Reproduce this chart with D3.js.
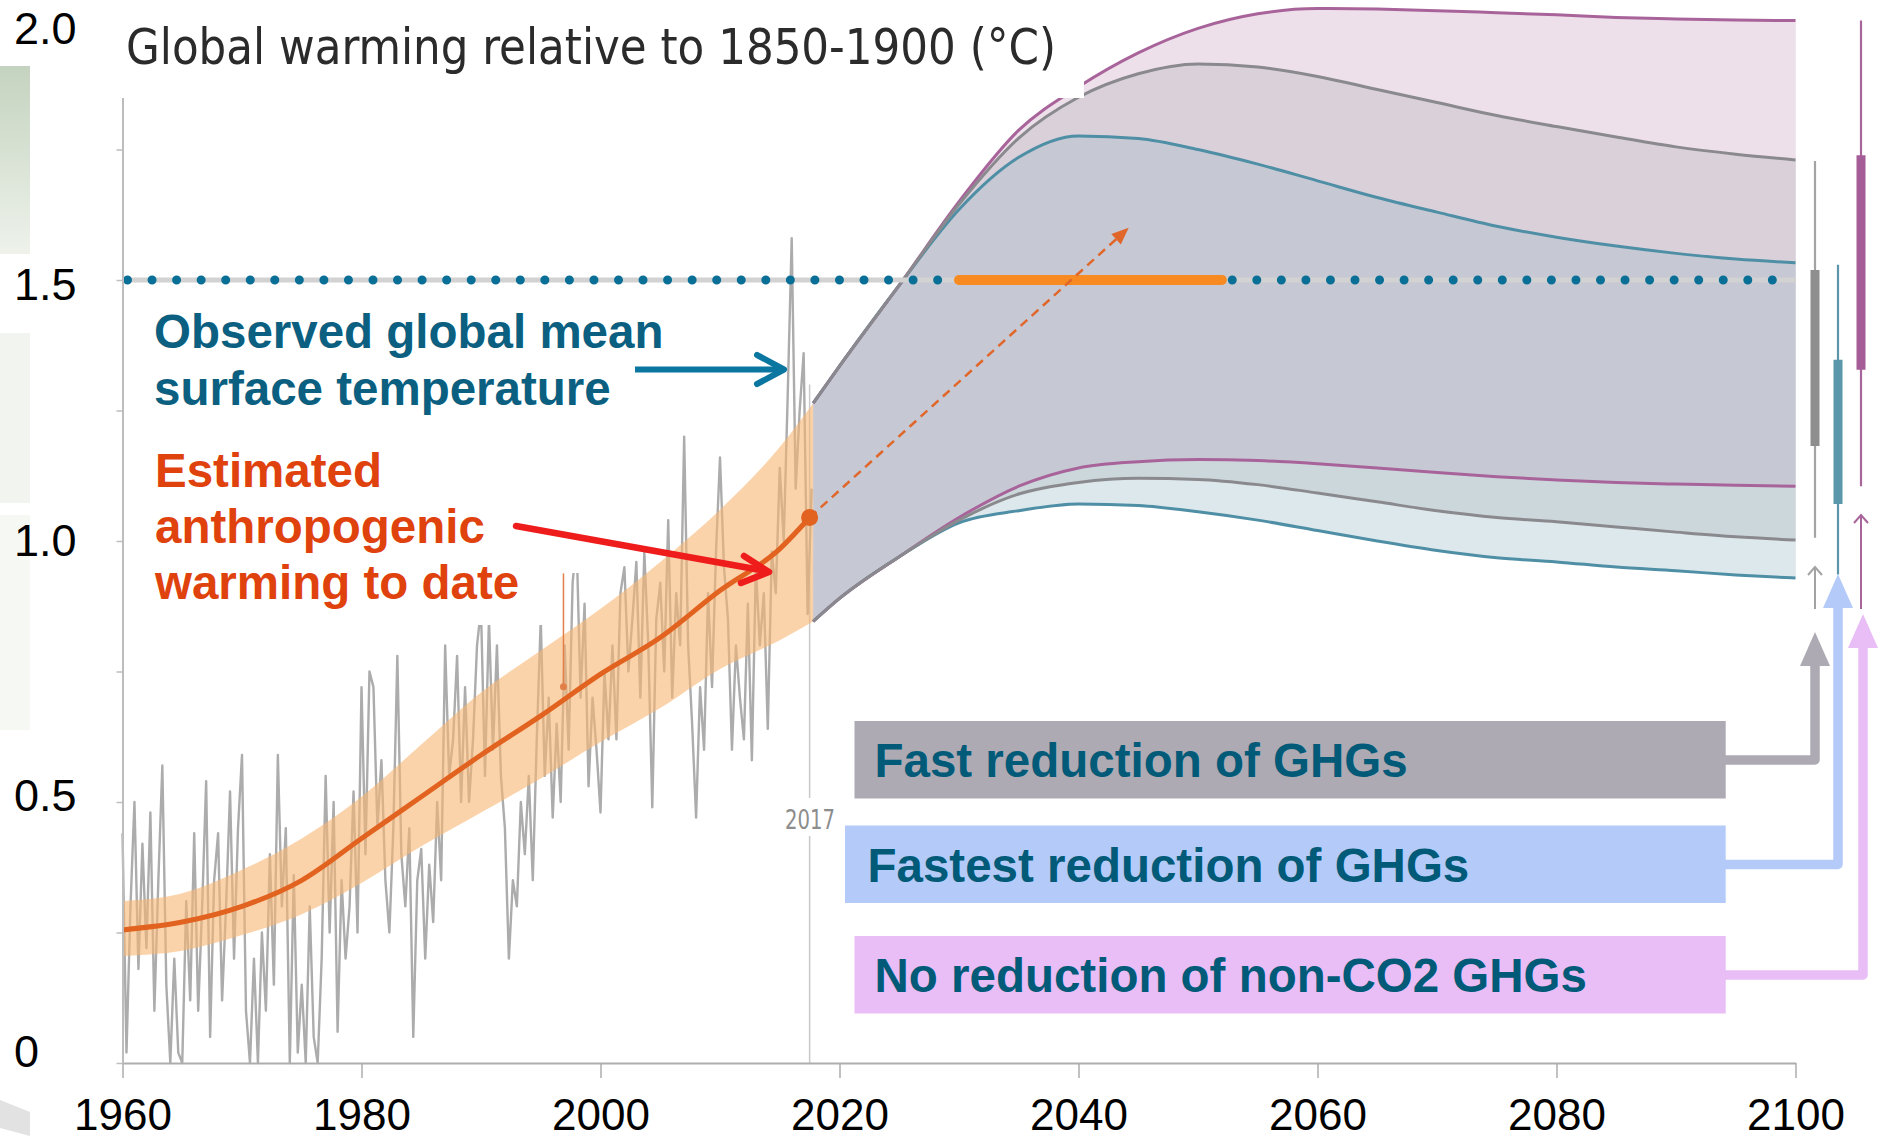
<!DOCTYPE html>
<html>
<head>
<meta charset="utf-8">
<script src="https://cdn.jsdelivr.net/npm/d3@7"></script>
<style>
  body { margin: 0; background: #fff; }
  svg { display: block; }
  text { font-family: "Liberation Sans", Arial, Helvetica, sans-serif; }
</style>
</head>
<body>
<script>
const width = 1878;
const height = 1144;

// observed global mean surface temperature, three readings per year from 1960
const obsStart = 1960;
const obsPerYear = 3;
const observed = [
  0.44, 0.02, 0.30,  0.50, 0.18, 0.42,  0.22, 0.48, 0.10,  0.35, 0.57, 0.15,
  0.00, 0.20, 0.02,  0.00, 0.31, 0.12,  0.44, 0.10, 0.30,  0.54, 0.05, 0.35,
  0.44, 0.12, 0.30,  0.52, 0.20, 0.45,  0.59, 0.10, 0.00,  0.20, 0.00, 0.25,
  0.10, 0.40, 0.15,  0.59, 0.30, 0.45,  0.00, 0.36, 0.02,  0.15, 0.00, 0.30,
  0.05, 0.00, 0.20,  0.55, 0.25, 0.50,  0.06, 0.35, 0.20,  0.30, 0.52, 0.25,
  0.72, 0.40, 0.75,  0.72, 0.45, 0.58,  0.35, 0.25, 0.45,  0.78, 0.40, 0.30,
  0.45, 0.05, 0.35,  0.41, 0.20, 0.38,  0.27, 0.50, 0.35,  0.80, 0.55, 0.62,
  0.78, 0.50, 0.72,  0.50, 0.62, 0.80,  0.87, 0.55, 0.85,  0.60, 0.80, 0.55,
  0.45, 0.20, 0.35,  0.30, 0.50, 0.40,  0.55, 0.35, 0.62,  0.85, 0.55, 0.70,
  0.47, 0.65, 0.50,  0.80, 0.60, 0.92,  1.00, 0.70, 0.88,  0.53, 0.70, 0.60,
  0.48, 0.75, 0.62,  0.80, 0.62, 0.90,  0.95, 0.75, 0.85,  0.96, 0.70, 0.98,
  0.80, 0.49, 0.85,  0.92, 0.75, 1.04,  0.70, 0.90, 0.80,  1.20, 0.80, 0.65,
  0.47, 0.72, 0.60,  0.90, 0.72, 0.98,  1.16, 0.95, 0.85,  0.60, 0.80, 0.70,
  0.62, 0.88, 0.58,  0.95, 0.80, 0.90,  0.64, 0.98, 0.90,  1.14, 1.00, 1.28,
  1.58, 1.10, 1.25,  1.36, 0.86, 1.10
];

// estimated anthropogenic warming and its likely range
const bandYears = [1960, 1965, 1970, 1975, 1980, 1985, 1990, 1995, 2000, 2005, 2010, 2015, 2017.8];
const bandMid  = [0.255, 0.27, 0.30, 0.35, 0.43, 0.51, 0.59, 0.665, 0.745, 0.815, 0.905, 0.985, 1.06];
const bandHigh = [0.31, 0.325, 0.37, 0.43, 0.51, 0.61, 0.71, 0.79, 0.87, 0.96, 1.06, 1.18, 1.264];
const bandLow  = [0.205, 0.215, 0.245, 0.285, 0.345, 0.415, 0.48, 0.545, 0.615, 0.68, 0.755, 0.81, 0.846];

// projected ranges for the three pathways
const projYears = [2017.8, 2020, 2025, 2030, 2035, 2040, 2045, 2050, 2055, 2060, 2065, 2070, 2075, 2080, 2085, 2090, 2095, 2100];
const magTop  = [1.264, 1.335, 1.49, 1.65, 1.787, 1.87, 1.935, 1.982, 2.01, 2.02, 2.019, 2.016, 2.012, 2.008, 2.003, 2.0, 1.998, 1.997];
const greyTop = [1.264, 1.335, 1.49, 1.645, 1.772, 1.85, 1.895, 1.914, 1.908, 1.89, 1.865, 1.84, 1.815, 1.794, 1.774, 1.755, 1.741, 1.73];
const blueTop = [1.264, 1.335, 1.49, 1.635, 1.735, 1.776, 1.771, 1.75, 1.722, 1.69, 1.658, 1.63, 1.603, 1.582, 1.565, 1.551, 1.54, 1.533];
const magLow  = [0.846, 0.89, 0.97, 1.045, 1.105, 1.14, 1.152, 1.156, 1.154, 1.148, 1.14, 1.131, 1.123, 1.117, 1.112, 1.109, 1.107, 1.105];
const greyLow = [0.846, 0.89, 0.97, 1.04, 1.09, 1.112, 1.12, 1.118, 1.108, 1.092, 1.075, 1.058, 1.045, 1.037, 1.027, 1.017, 1.008, 1.002];
const blueLow = [0.846, 0.89, 0.97, 1.035, 1.058, 1.071, 1.068, 1.056, 1.04, 1.02, 1.0, 0.982, 0.968, 0.96, 0.95, 0.943, 0.935, 0.929];

// 2100 ranges at the right edge
const scenarios = ['Fast reduction of GHGs', 'Fastest reduction of GHGs', 'No reduction of non-CO2 GHGs'];
const rangeMin  = [1.006, 0.936, 1.105];
const rangeMax  = [1.728, 1.529, 1.997];
const likelyLow  = [1.182, 1.071, 1.328];
const likelyHigh = [1.519, 1.347, 1.739];

const reach15 = [2030, 2052];
const nowPoint = [2017.5, 1.045];
const trendTip = [2044.2, 1.6];
const marker1997 = [1996.9, 0.721, 0.938];

const xTicks = [1960, 1980, 2000, 2020, 2040, 2060, 2080, 2100];
const yMinorTicks = [0, 0.25, 0.5, 0.75, 1, 1.25, 1.5, 1.75, 2];
const yLabels = [0, 0.5, 1, 1.5, 2];

const scenarioLine  = ['#8a8a8e', '#4f8fa6', '#a8649a'];
const scenarioBox   = ['#8e8e8e', '#5a97ab', '#a45d96'];
const scenarioThin  = ['#a3a3a3', '#5d96aa', '#a8659a'];
const legendFill    = ['#aeaab4', '#b4cbf9', '#e9bdf5'];

const x = d3.scaleLinear().domain([1960, 2100]).range([122.5, 1795.5]);
const y = d3.scaleLinear().domain([0, 2]).range([1063, 19]);
// the slide's pasted tick labels sit slightly off the plot scale
const yLab = d3.scaleLinear().domain([0, 2]).range([1067, 44]);
const xs = d3.scalePoint().domain(scenarios).range([1815, 1861]);

const svg = d3.select('body').append('svg')
  .attr('width', width)
  .attr('height', height);

const defs = svg.append('defs');
const grad = defs.append('linearGradient').attr('id', 'sideGreen')
  .attr('x1', 0).attr('y1', 0).attr('x2', 0).attr('y2', 1);
grad.append('stop').attr('offset', 0).attr('stop-color', '#c4d3bf');
grad.append('stop').attr('offset', 1).attr('stop-color', '#eef2eb');

// bits of the slide background on the far left
svg.append('rect').attr('x', 0).attr('y', 66).attr('width', 30).attr('height', 188).attr('fill', 'url(#sideGreen)');
svg.append('rect').attr('x', 0).attr('y', 333).attr('width', 30).attr('height', 170).attr('fill', '#f1f4ef');
svg.append('rect').attr('x', 0).attr('y', 515).attr('width', 30).attr('height', 215).attr('fill', '#f6f8f3');
svg.append('path').attr('d', 'M0,1100 L30,1112 L30,1136 L0,1128 Z').attr('fill', '#e2e2e2');

// projection bands, stacked from top to bottom
const proj = projYears.map((yr, i) => ({
  yr, mt: magTop[i], gt: greyTop[i], bt: blueTop[i], ml: magLow[i], gl: greyLow[i], bl: blueLow[i]
}));
const bands = [
  ['mt', 'gt', '#eee0ea'],
  ['gt', 'bt', '#d9d0da'],
  ['bt', 'ml', '#c6c9d3'],
  ['ml', 'gl', '#ccd7dc'],
  ['gl', 'bl', '#dde8ec'],
];
bands.forEach(([a, b, c]) => {
  svg.append('path')
    .datum(proj)
    .attr('fill', c)
    .attr('stroke', c)
    .attr('stroke-width', 0.6)
    .attr('d', d3.area().curve(d3.curveMonotoneX)
      .x(d => x(d.yr)).y0(d => y(d[b])).y1(d => y(d[a])));
});

// 2017 marker line
svg.append('line')
  .attr('x1', x(2017.5)).attr('x2', x(2017.5))
  .attr('y1', y(1.3)).attr('y2', y(0))
  .attr('stroke', '#c9c9c9').attr('stroke-width', 1.5);

// observed series
const obs = observed.map((v, i) => [obsStart + i / obsPerYear, v]);
svg.append('path')
  .datum(obs)
  .attr('fill', 'none')
  .attr('stroke', '#acacac')
  .attr('stroke-width', 2.4)
  .attr('stroke-linejoin', 'round')
  .attr('d', d3.line().x(d => x(d[0])).y(d => y(d[1])));

// likely range of anthropogenic warming
const band = bandYears.map((yr, i) => ({ yr, mid: bandMid[i], hi: bandHigh[i], lo: bandLow[i] }));
svg.append('path')
  .datum(band)
  .attr('fill', '#f8b573')
  .attr('fill-opacity', 0.6)
  .attr('d', d3.area().curve(d3.curveMonotoneX)
    .x(d => x(d.yr)).y0(d => y(d.lo)).y1(d => y(d.hi)));

// white panels behind the annotation text
svg.append('rect').attr('x', 123).attr('y', 430).attr('width', 477).attr('height', 143).attr('fill', '#fff');
svg.append('rect').attr('x', 123).attr('y', 573).attr('width', 424).attr('height', 52).attr('fill', '#fff');

// small 1997 marker
svg.append('line')
  .attr('x1', x(marker1997[0])).attr('x2', x(marker1997[0]))
  .attr('y1', y(marker1997[2])).attr('y2', y(marker1997[1]))
  .attr('stroke', '#e08048').attr('stroke-width', 1.5);
svg.append('circle').attr('cx', x(marker1997[0])).attr('cy', y(marker1997[1])).attr('r', 3.5).attr('fill', '#e08048');

// projection lines
const lineKeys = [['bt', 1], ['bl', 1], ['mt', 2], ['ml', 2], ['gt', 0], ['gl', 0]];
lineKeys.forEach(([k, s]) => {
  svg.append('path')
    .datum(proj)
    .attr('fill', 'none')
    .attr('stroke', scenarioLine[s])
    .attr('stroke-width', 3)
    .attr('d', d3.line().curve(d3.curveMonotoneX).x(d => x(d.yr)).y(d => y(d[k])));
});

// 1.5 degree line
svg.append('line')
  .attr('x1', x(1960)).attr('x2', x(2100))
  .attr('y1', y(1.5)).attr('y2', y(1.5))
  .attr('stroke', '#d2d2d2').attr('stroke-width', 5);
svg.append('line')
  .attr('x1', x(1960) + 5).attr('x2', x(2098.5))
  .attr('y1', y(1.5)).attr('y2', y(1.5))
  .attr('stroke', '#0a6f96')
  .attr('stroke-width', 9)
  .attr('stroke-linecap', 'round')
  .attr('stroke-dasharray', '0 24.55');

// period when 1.5 is reached
svg.append('line')
  .attr('x1', x(reach15[0])).attr('x2', x(reach15[1]))
  .attr('y1', y(1.5)).attr('y2', y(1.5))
  .attr('stroke', '#f78a20').attr('stroke-width', 10).attr('stroke-linecap', 'round');

// anthropogenic warming central line
svg.append('path')
  .datum(band.filter(d => d.yr <= 2017.6).concat([{ yr: nowPoint[0], mid: nowPoint[1] }]))
  .attr('fill', 'none')
  .attr('stroke', '#e2621f')
  .attr('stroke-width', 5)
  .attr('d', d3.line().curve(d3.curveMonotoneX).x(d => x(d.yr)).y(d => y(d.mid)));

// dashed trend arrow
const tx0 = x(nowPoint[0]), ty0 = y(nowPoint[1]), tx1 = x(trendTip[0]), ty1 = y(trendTip[1]);
const ang = Math.atan2(ty1 - ty0, tx1 - tx0);
svg.append('line')
  .attr('x1', tx0).attr('y1', ty0)
  .attr('x2', tx1 - 12 * Math.cos(ang)).attr('y2', ty1 - 12 * Math.sin(ang))
  .attr('stroke', '#e0662a').attr('stroke-width', 2.5).attr('stroke-dasharray', '9 6');
svg.append('path')
  .attr('d', `M${tx1},${ty1} L${tx1 - 17 * Math.cos(ang) + 7 * Math.sin(ang)},${ty1 - 17 * Math.sin(ang) - 7 * Math.cos(ang)} L${tx1 - 17 * Math.cos(ang) - 7 * Math.sin(ang)},${ty1 - 17 * Math.sin(ang) + 7 * Math.cos(ang)} Z`)
  .attr('fill', '#e0662a');

svg.append('circle')
  .attr('cx', x(nowPoint[0])).attr('cy', y(nowPoint[1]))
  .attr('r', 8.5).attr('fill', '#e2621f');

// axes
const xAxis = svg.append('g')
  .attr('transform', `translate(0,${y(0)})`)
  .call(d3.axisBottom(x).tickValues(xTicks).tickSize(15).tickSizeOuter(0).tickPadding(21).tickFormat(d3.format('d')));
xAxis.select('.domain').attr('stroke', '#adadad').attr('stroke-width', 2);
xAxis.selectAll('.tick line').attr('stroke', '#adadad').attr('stroke-width', 1.5);
xAxis.selectAll('.tick text')
  .attr('fill', '#000')
  .style('font-family', '"Liberation Sans", Arial, sans-serif')
  .style('font-size', '44px');

const yAxis = svg.append('g')
  .attr('transform', `translate(${x(1960)},0)`)
  .call(d3.axisLeft(y).tickValues(yMinorTicks).tickSize(6).tickSizeOuter(0).tickFormat(''));
yAxis.select('.domain').attr('stroke', '#bdbdbd').attr('stroke-width', 2);
yAxis.selectAll('.tick line').attr('stroke', '#bdbdbd').attr('stroke-width', 1.5);

// 2017 label
svg.append('rect').attr('x', 784).attr('y', 798).attr('width', 52).attr('height', 38).attr('fill', '#fff');
svg.append('text')
  .attr('x', 785).attr('y', 829)
  .attr('textLength', 50).attr('lengthAdjust', 'spacingAndGlyphs')
  .style('font-family', '"Liberation Sans Narrow", "DejaVu Sans Condensed", sans-serif')
  .style('font-size', '27px')
  .attr('fill', '#8d8d8d')
  .text('2017');

// title panel
svg.append('rect').attr('x', 31).attr('y', 0).attr('width', 1053).attr('height', 98).attr('fill', '#fff');
svg.append('text')
  .attr('x', 126).attr('y', 64)
  .attr('textLength', 930).attr('lengthAdjust', 'spacingAndGlyphs')
  .style('font-family', '"Liberation Sans Narrow", "DejaVu Sans Condensed", "Open Sans", sans-serif')
  .style('font-size', '50px')
  .attr('fill', '#2b2b2b')
  .text('Global warming relative to 1850-1900 (°C)');

// y labels
svg.append('g').selectAll('text')
  .data(yLabels)
  .join('text')
  .attr('x', 14)
  .attr('y', d => yLab(d))
  .style('font-size', '45px')
  .attr('fill', '#000')
  .text(d => d === 0 ? '0' : d.toFixed(1));

// 2100 ranges
const rng = svg.append('g');
scenarios.forEach((s, i) => {
  rng.append('line')
    .attr('x1', xs(s)).attr('x2', xs(s))
    .attr('y1', y(rangeMax[i])).attr('y2', y(rangeMin[i]))
    .attr('stroke', scenarioThin[i]).attr('stroke-width', 2.2);
  rng.append('line')
    .attr('x1', xs(s)).attr('x2', xs(s))
    .attr('y1', y(likelyHigh[i])).attr('y2', y(likelyLow[i]))
    .attr('stroke', scenarioBox[i]).attr('stroke-width', 9);
});
// small upward pointers beneath the ranges
[[0, 567], [2, 515]].forEach(([i, top]) => {
  const cx = xs(scenarios[i]);
  rng.append('line').attr('x1', cx).attr('x2', cx).attr('y1', top).attr('y2', 609)
    .attr('stroke', scenarioThin[i]).attr('stroke-width', 2);
  rng.append('path').attr('d', `M${cx - 7},${top + 8} L${cx},${top} L${cx + 7},${top + 8}`)
    .attr('fill', 'none').attr('stroke', scenarioThin[i]).attr('stroke-width', 2);
});

// legend panels with connector arrows
const legendTop = [721, 825.5, 936];
const arrowTip = [632, 574, 614];
const leg = svg.append('g');
scenarios.forEach((s, i) => {
  const top = legendTop[i];
  const left = i === 1 ? 845 : 854.5;
  const mid = top + 39;
  const cx = xs(s) + (i === 2 ? 2 : 0);
  leg.append('path')
    .attr('d', `M1720,${mid} H${cx} V${arrowTip[i] + 30}`)
    .attr('fill', 'none')
    .attr('stroke', legendFill[i])
    .attr('stroke-width', 9.5)
    .attr('stroke-linejoin', 'round');
  leg.append('path')
    .attr('d', `M${cx},${arrowTip[i]} L${cx + 15},${arrowTip[i] + 34} L${cx - 15},${arrowTip[i] + 34} Z`)
    .attr('fill', legendFill[i]);
  leg.append('rect')
    .attr('x', left).attr('y', top)
    .attr('width', 1725.7 - left).attr('height', 77.5)
    .attr('fill', legendFill[i]);
  leg.append('text')
    .attr('x', left + (i === 1 ? 22.5 : 20)).attr('y', mid + 17)
    .style('font-size', '47.5px').style('font-weight', 'bold')
    .attr('fill', '#005a78')
    .text(s);
});

// annotations
const ann = svg.append('g').style('font-size', '47.5px').style('font-weight', 'bold');
ann.append('text').attr('x', 154).attr('y', 348).attr('fill', '#0b5f80').text('Observed global mean');
ann.append('text').attr('x', 154).attr('y', 405).attr('fill', '#0b5f80').text('surface temperature');
ann.append('text').attr('x', 155).attr('y', 487).attr('fill', '#e0420e').text('Estimated');
ann.append('text').attr('x', 155).attr('y', 543).attr('fill', '#e0420e').text('anthropogenic');
ann.append('text').attr('x', 155).attr('y', 599).attr('fill', '#e0420e').text('warming to date');

// annotation arrows
svg.append('line').attr('x1', 635).attr('y1', 369.5).attr('x2', 782).attr('y2', 369.5)
  .attr('stroke', '#0b76a0').attr('stroke-width', 6);
svg.append('path').attr('d', 'M757,355 L784,369.5 L757,384')
  .attr('fill', 'none').attr('stroke', '#0b76a0').attr('stroke-width', 6)
  .attr('stroke-linecap', 'round').attr('stroke-linejoin', 'round');

svg.append('line').attr('x1', 516).attr('y1', 526).attr('x2', 766).attr('y2', 571)
  .attr('stroke', '#ef1c1c').attr('stroke-width', 6.5).attr('stroke-linecap', 'round');
svg.append('path').attr('d', 'M744,556 L769,572 L741,583')
  .attr('fill', 'none').attr('stroke', '#ef1c1c').attr('stroke-width', 6.5)
  .attr('stroke-linecap', 'round').attr('stroke-linejoin', 'round');
</script>
</body>
</html>
